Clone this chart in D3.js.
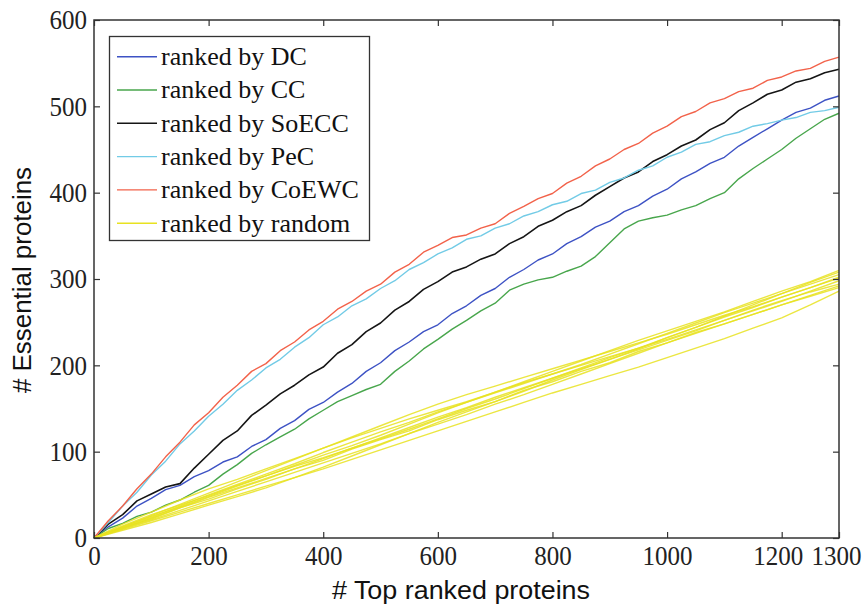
<!DOCTYPE html>
<html><head><meta charset="utf-8">
<script src="https://cdn.jsdelivr.net/npm/d3@7"></script>
<style>body{margin:0;background:#fff}svg{display:block}</style>
</head><body>
<svg id="chart" width="866" height="605"></svg>
<script>
// x positions (top ranked proteins), step 25 for the ranked series
const xSteps = d3.range(0, 1301, 25);
const xStepsRandom = d3.range(0, 1301, 50);
const xTicks = [0, 200, 400, 600, 800, 1000, 1200, 1300];
const yTicks = [0, 100, 200, 300, 400, 500, 600];
const seriesNames = ["ranked by DC", "ranked by CC", "ranked by SoECC", "ranked by PeC", "ranked by CoEWC", "ranked by random"];
const seriesColors = ["#3d52c4", "#48a64c", "#151515", "#72cbe6", "#f2624a", "#e8e220"];

const DC = [0,13,23,37,46,56,61,71,78,88,94,106,114,127,136,149,157,169,179,193,203,217,227,239,247,260,269,281,289,302,311,322,329,341,349,360,367,378,385,396,404,416,424,434,441,454,464,474,484,493,498,507,512];
const CC = [0,11,17,25,30,38,44,53,61,74,85,98,108,117,126,138,148,158,165,172,178,193,205,219,230,242,252,263,272,287,294,299,302,309,315,326,342,358,367,371,374,380,385,393,400,416,428,439,450,463,474,485,492];
const SoECC = [0,16,27,43,51,59,63,81,97,113,124,142,154,167,177,189,198,214,224,239,249,264,274,288,297,308,314,323,329,341,349,361,368,378,385,397,407,417,424,436,444,454,461,473,481,495,504,514,519,528,532,539,543];
const PeC = [0,18,37,53,73,89,109,124,141,155,171,183,197,207,221,232,247,256,269,277,289,298,311,319,329,336,346,350,359,364,373,378,386,390,399,403,412,417,426,431,441,447,456,459,466,470,477,480,484,487,493,495,499];
const CoEWC = [0,20,37,57,74,94,111,131,145,163,177,193,202,217,227,241,251,265,274,286,294,308,317,331,339,348,351,359,364,376,384,393,399,411,419,431,439,450,457,469,477,488,494,504,509,517,521,530,534,541,544,552,557];

// random rankings (10 runs), step 50
const random1 = [0,16,30,44,57,68,80,92,104,116,127,138,148,158,169,180,190,200,210,220,230,241,252,263,274,286,298];
const random2 = [0,9,18,28,38,48,58,70,82,95,108,121,134,146,158,170,183,195,207,219,232,244,257,270,283,296,308];
const random3 = [0,12,22,35,45,57,68,80,90,103,114,124,137,148,158,171,181,193,203,216,226,238,248,259,270,281,292];
const random4 = [0,13,26,39,52,65,78,91,104,117,130,143,155,166,176,186,196,206,216,226,236,247,258,268,279,290,301];
const random5 = [0,10,20,30,40,50,60,70,80,91,102,113,124,135,146,157,168,178,188,198,209,220,231,243,255,270,286];
const random6 = [0,14,27,38,49,61,72,84,96,107,119,132,145,157,169,181,193,205,217,229,240,251,262,274,286,297,310];
const random7 = [0,11,23,35,47,58,69,80,92,104,115,126,138,150,161,173,185,197,209,220,232,244,256,267,279,290,302];
const random8 = [0,13,25,36,48,60,72,83,93,104,116,128,140,151,163,174,185,196,207,218,229,240,252,264,275,285,294];
const random9 = [0,12,24,37,50,62,74,86,99,111,123,134,146,157,168,179,190,201,213,225,237,249,261,272,283,294,305];
const random10 = [0,11,21,32,43,54,65,76,87,98,109,121,132,143,155,166,178,190,202,214,226,237,248,259,270,280,290];
const randomRuns = [random1, random2, random3, random4, random5, random6, random7, random8, random9, random10];

const svg = d3.select("#chart");
const L = 94, R = 839, T = 20, B = 538;
const x = d3.scaleLinear().domain([0, 1300]).range([L, R]);
const y = d3.scaleLinear().domain([0, 600]).range([B, T]);

const serif = "'Liberation Serif','Times New Roman',serif";
const sans = "'Liberation Sans',Arial,sans-serif";
const axisColor = "#333";

const line = d3.line().x(d => x(d[0])).y(d => y(d[1]));
const ranked = [DC, CC, SoECC, PeC, CoEWC];
const plot = svg.append("g");
ranked.forEach((vals, i) => {
  plot.append("path")
    .datum(xSteps.map((xv, k) => [xv, vals[k]]))
    .attr("fill", "none")
    .attr("stroke", seriesColors[i])
    .attr("stroke-width", i === 2 ? 1.6 : 1.4)
    .attr("stroke-linejoin", "round")
    .attr("d", line);
});
randomRuns.forEach(vals => {
  plot.append("path")
    .datum(xStepsRandom.map((xv, k) => [xv, vals[k]]))
    .attr("fill", "none")
    .attr("stroke", seriesColors[5])
    .attr("stroke-opacity", 0.85)
    .attr("stroke-width", 1.4)
    .attr("stroke-linejoin", "round")
    .attr("d", line);
});

// axes
function styleAxis(g) {
  g.select(".domain").remove();
  g.selectAll(".tick line").attr("stroke", axisColor).attr("stroke-width", 1.2);
  g.selectAll(".tick text").attr("fill", "#222").attr("font-family", serif).attr("font-size", 28)
    .attr("textLength", function(d) { return String(d).length * 12.5; })
    .attr("lengthAdjust", "spacingAndGlyphs");
}
const xAxisG = svg.append("g").attr("transform", `translate(0,${B})`)
  .call(d3.axisBottom(x).tickValues(xTicks).tickSize(-6).tickPadding(7).tickFormat(d3.format("d")))
  .call(styleAxis);
xAxisG.selectAll(".tick text").attr("dx", d => d === 1300 ? -3 : (d === 1200 ? -4 : 0));
svg.append("g").attr("transform", `translate(0,${T})`)
  .call(d3.axisTop(x).tickValues(xTicks).tickSize(-6).tickFormat(""))
  .call(styleAxis);
svg.append("g").attr("transform", `translate(${L},0)`)
  .call(d3.axisLeft(y).tickValues(yTicks).tickSize(-6).tickPadding(7).tickFormat(d3.format("d")))
  .call(styleAxis);
svg.append("g").attr("transform", `translate(${R},0)`)
  .call(d3.axisRight(y).tickValues(yTicks).tickSize(-6).tickFormat(""))
  .call(styleAxis);

svg.append("rect").attr("x", L).attr("y", T).attr("width", R - L).attr("height", B - T)
  .attr("fill", "none").attr("stroke", axisColor).attr("stroke-width", 1.5);

// axis titles
svg.append("text").attr("x", 461).attr("y", 599).attr("text-anchor", "middle")
  .attr("font-family", sans).attr("font-size", 26).attr("fill", "#111")
  .attr("textLength", 258).attr("lengthAdjust", "spacingAndGlyphs")
  .text("# Top ranked proteins");
svg.append("text").attr("transform", "translate(31,280) rotate(-90)").attr("text-anchor", "middle")
  .attr("font-family", sans).attr("font-size", 26).attr("fill", "#111")
  .attr("textLength", 226).attr("lengthAdjust", "spacingAndGlyphs")
  .text("# Essential proteins");

// legend
const lg = svg.append("g");
lg.append("rect").attr("x", 109.5).attr("y", 36.5).attr("width", 260).attr("height", 204)
  .attr("fill", "#fff").attr("stroke", axisColor).attr("stroke-width", 1.3);
seriesNames.forEach((name, i) => {
  const cy = 56.7 + i * 33.3;
  lg.append("line").attr("x1", 117).attr("x2", 157).attr("y1", cy).attr("y2", cy)
    .attr("stroke", seriesColors[i]).attr("stroke-width", 1.4);
  lg.append("text").attr("x", 161).attr("y", cy).attr("dy", "0.32em")
    .attr("font-family", serif).attr("font-size", 26).attr("fill", "#111")
    .text(name);
});
</script>
</body></html>
